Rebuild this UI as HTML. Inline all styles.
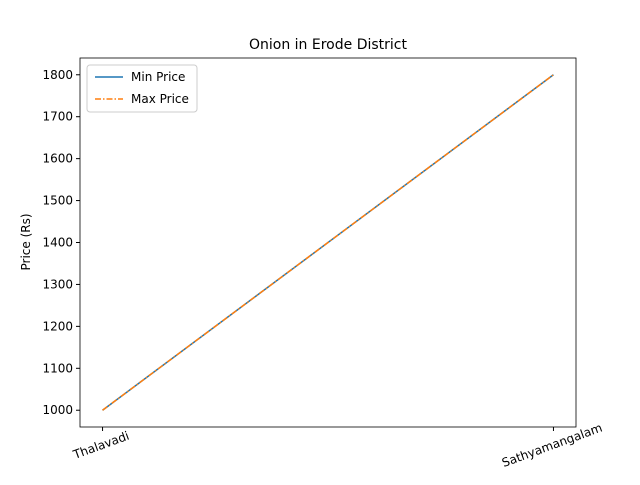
<!DOCTYPE html>
<html><head><meta charset="utf-8"><style>
body{margin:0;background:#fff;}
svg{font-family:"DejaVu Sans","Liberation Sans",sans-serif;}
</style></head><body>
<svg id="chart" width="640" height="480" viewBox="0 0 640 480">
<rect width="640" height="480" fill="#fff"/>
<text x="328" y="49" text-anchor="middle" font-size="14">Onion in Erode District</text>
<text transform="translate(30,242) rotate(-90)" text-anchor="middle" font-size="12">Price (Rs)</text>
<g id="ticks"></g>
<g id="series"></g>
<rect x="80" y="58" width="496" height="369" fill="none" stroke="#000" stroke-width="0.8"/>
<g>
<rect x="87" y="65" width="110" height="47" rx="3" fill="#fff" fill-opacity="0.8" stroke="#ccc"/>
<line x1="95" y1="77" x2="123" y2="77" stroke="#1f77b4" stroke-width="1.5"/>
<text x="131" y="81" font-size="12">Min Price</text>
<line x1="95" y1="99" x2="123" y2="99" stroke="#ff7f0e" stroke-width="1.5" stroke-dasharray="6,2,1.5,2"/>
<text x="131" y="103" font-size="12">Max Price</text>
</g>
</svg>
<script>
const categories = ["Thalavadi", "Sathyamangalam"];
const minPrices = [1000, 1800];
const maxPrices = [1000, 1800];
const yTicks = [1000, 1100, 1200, 1300, 1400, 1500, 1600, 1700, 1800];

const NS = "http://www.w3.org/2000/svg";
const L = 80, R = 576, T = 58, B = 427;
const all = minPrices.concat(maxPrices);
const dmin = Math.min(...all), dmax = Math.max(...all);
const pad = (dmax - dmin) * 0.05 || 1;
const y0 = dmin - pad, y1 = dmax + pad;
function yS(v){ return B - (v - y0) / (y1 - y0) * (B - T); }
const n = categories.length;
const xpad = (n - 1) * 0.05 || 0.5;
function xS(i){ return L + (i + xpad) / (n - 1 + 2 * xpad) * (R - L); }

const tg = document.getElementById("ticks");
yTicks.forEach(v => {
  const y = yS(v);
  const l = document.createElementNS(NS, "line");
  l.setAttribute("x1", L - 4); l.setAttribute("x2", L); l.setAttribute("y1", y); l.setAttribute("y2", y);
  l.setAttribute("stroke", "#000");
  
  
  tg.appendChild(l);
  const t = document.createElementNS(NS, "text");
  t.setAttribute("x", L - 7); t.setAttribute("y", y + 4); t.setAttribute("text-anchor", "end");
  t.setAttribute("font-size", "12"); t.textContent = v;
  
  
  tg.appendChild(t);
});
categories.forEach((c, i) => {
  const x = xS(i);
  const l = document.createElementNS(NS, "line");
  l.setAttribute("x1", x); l.setAttribute("x2", x); l.setAttribute("y1", B); l.setAttribute("y2", B + 4);
  l.setAttribute("stroke", "#000");
  
  
  tg.appendChild(l);
  const t = document.createElementNS(NS, "text");
  t.setAttribute("transform", "translate(" + x + "," + (B + 22) + ") rotate(-20)");
  t.setAttribute("text-anchor", "middle");
  t.setAttribute("font-size", "12"); t.textContent = c;
  
  
  tg.appendChild(t);
});
const sg = document.getElementById("series");
function drawLine(vals, color, dash, name){
  const p = document.createElementNS(NS, "polyline");
  p.setAttribute("points", vals.map((v, i) => xS(i) + "," + yS(v)).join(" "));
  p.setAttribute("fill", "none"); p.setAttribute("stroke", color); p.setAttribute("stroke-width", "1.5");
  if (dash) p.setAttribute("stroke-dasharray", dash);
  
  
  sg.appendChild(p);
}
drawLine(minPrices, "#1f77b4", null, "min-price-line");
drawLine(maxPrices, "#ff7f0e", "6,2,1.5,2", "max-price-line");
</script>
</body></html>
